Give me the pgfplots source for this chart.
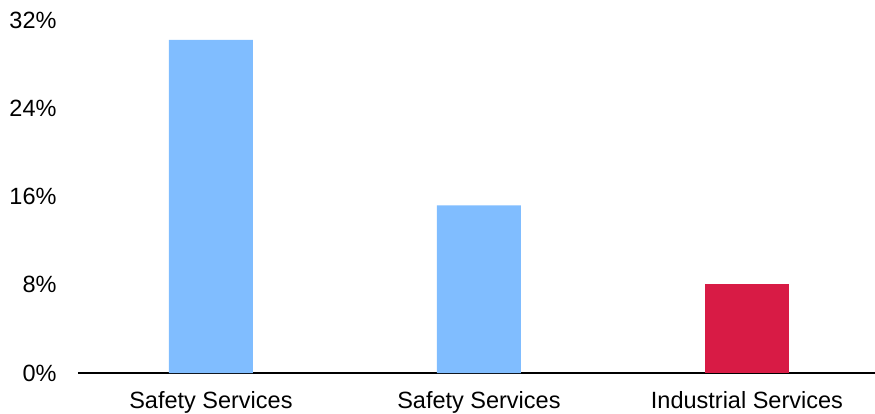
\documentclass[border=0pt]{standalone}
\usepackage{pgfplots}
\pgfplotsset{compat=1.18}
\usepackage{fontspec}
\setmainfont{Liberation Sans}
\usetikzlibrary{calc}
\definecolor{barblue}{HTML}{80BDFF}
\definecolor{barred}{HTML}{D81B45}
\begin{document}
\begin{tikzpicture}
\begin{axis}[
  scale only axis,
  width=797bp, height=353bp,
  xmin=-0.496, xmax=2.478,
  ymin=0, ymax=32,
  ytick={0,8,16,24,32},
  yticklabel={\pgfmathprintnumber{\tick}\%},
  /pgf/number format/assume math mode=true,
  xtick={0,1,2},
  xticklabels={Safety Services,Safety Services,Industrial Services},
  axis x line=bottom, axis y line=left,
  y axis line style={draw=none},
  x axis line style={-, black, line width=1.5bp},
  major tick length=0pt,
  tick label style={font=\fontsize{23.5bp}{26bp}\selectfont, text=black},
  yticklabel style={xshift=-18bp},
  xticklabel style={yshift=-15bp},
  ybar, bar width=0.313, bar shift=0pt,
]
\addplot[fill=barblue, draw=none] coordinates {(0,30.2) (1,15.2)};
\addplot[fill=barred, draw=none] coordinates {(2,8.07)};
\end{axis}
\pgfresetboundingbox
\path[use as bounding box] ($(current axis.south west)+(-78bp,-41bp)$) rectangle ($(current axis.north east)+(0,20bp)$);
\end{tikzpicture}
\end{document}
